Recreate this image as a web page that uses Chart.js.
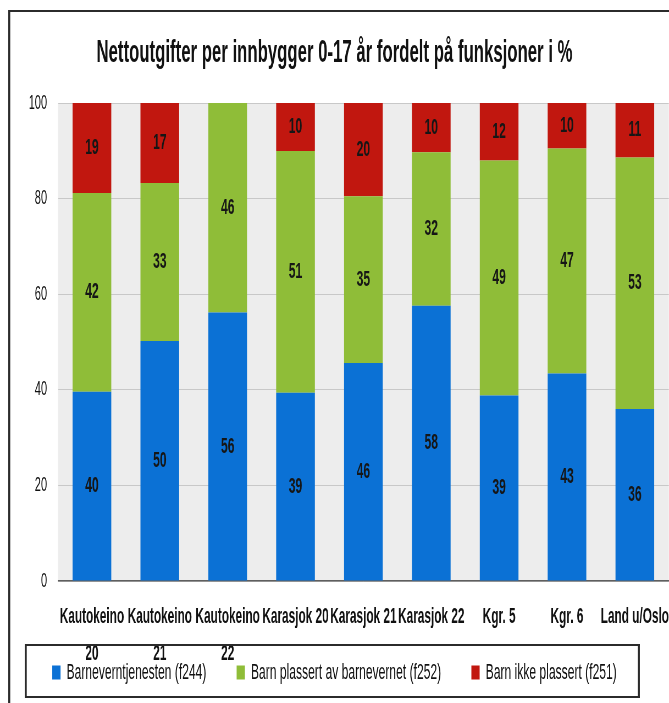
<!DOCTYPE html>
<html>
<head>
<meta charset="utf-8">
<title>Nettoutgifter per innbygger 0-17 år</title>
<script src="https://cdn.jsdelivr.net/npm/chart.js@4.4.1/dist/chart.umd.min.js"></script>
<style>
  body { margin: 0; background: #fff; overflow: hidden; }
  /* the source is a squeezed Excel chart: draw it wide, then squeeze it to 669px */
  #wrap { width: 1217px; height: 703px; transform: scaleX(0.5497); transform-origin: 0 0; }
</style>
</head>
<body>
<div id="wrap"><canvas id="fordeling"></canvas></div>
<script>
// categories (the year wraps onto a second line for Kautokeino)
let kommuner = [['Kautokeino', '20'], ['Kautokeino', '21'], ['Kautokeino', '22'], 'Karasjok 20', 'Karasjok 21', 'Karasjok 22', 'Kgr. 5', 'Kgr. 6', 'Land u/Oslo'];

// share of net spending, %
let barnevernTj = [39.6, 50.2, 56.2, 39.4, 45.6, 57.6, 38.8, 43.4, 36.0];
let barnPlassert = [41.6, 33.1, 46.0, 50.6, 34.9, 32.1, 49.2, 47.1, 52.6];
let barnIkkePlassert = [18.8, 16.7, -2.2, 10.0, 19.5, 10.3, 12.0, 9.5, 11.4];

let yTicks = [0, 20, 40, 60, 80, 100];

const fam = '"Liberation Sans", Arial, sans-serif';
Chart.defaults.font.family = fam;
Chart.defaults.color = '#111';

// gray plot area, outer frame and the box round the legend
const frame = {
    id: 'frame',
    beforeDraw(chart) {
        const {ctx, chartArea: a} = chart;
        ctx.save();
        ctx.fillStyle = '#ededed';
        ctx.fillRect(a.left, a.top, a.right - a.left, a.bottom - a.top);
        ctx.restore();
    },
    afterDraw(chart) {
        const {ctx, width, height, legend} = chart;
        ctx.save();
        ctx.fillStyle = '#2b2b2b';
        ctx.fillRect(16, 10, width - 16, 2);
        ctx.fillRect(15, 10, 3.6, height - 10);

        const boxes = legend.legendHitBoxes;
        const first = boxes[0], last = boxes[boxes.length - 1];
        const l = first.left - 50, r = last.left + last.width + 42;
        const t = first.top - 17.5, b = first.top + first.height + 14.5;
        ctx.fillRect(l, t, r - l, 2);
        ctx.fillRect(l, b - 2, r - l, 2);
        ctx.fillRect(l, t, 3.6, b - t);
        ctx.fillRect(r - 3.6, t, 3.6, b - t);
        ctx.restore();
    }
};

// value in the middle of each visible segment
const segmentLabels = {
    id: 'segmentLabels',
    afterDatasetsDraw(chart) {
        const {ctx, chartArea} = chart;
        ctx.save();
        ctx.font = 'bold 22px ' + fam;
        ctx.fillStyle = '#161616';
        ctx.textAlign = 'center';
        ctx.textBaseline = 'middle';
        chart.data.datasets.forEach((ds, i) => {
            chart.getDatasetMeta(i).data.forEach((bar, j) => {
                const v = ds.data[j];
                if (v <= 0) return;
                const top = Math.max(Math.min(bar.y, bar.base), chartArea.top);
                const bottom = Math.min(Math.max(bar.y, bar.base), chartArea.bottom);
                if (bottom - top < 12) return;
                ctx.fillText(Math.round(v), bar.x, (top + bottom) / 2);
            });
        });
        ctx.restore();
    }
};

const ctx = document.getElementById('fordeling').getContext('2d');
const fordelingChart = new Chart(ctx, {
    type: 'bar',
    data: {
        labels: kommuner,
        datasets: [{
                label: 'Barneverntjenesten (f244)',
                data: barnevernTj,
                backgroundColor: '#0b71d5',
                borderWidth: 0
            },
            {
                label: 'Barn plassert av barnevernet (f252)',
                data: barnPlassert,
                backgroundColor: '#8fbd38',
                borderWidth: 0
            },
            {
                label: 'Barn ikke plassert (f251)',
                data: barnIkkePlassert,
                backgroundColor: '#c1170f',
                borderWidth: 0
            }]
    },
    options: {
        responsive: true,
        maintainAspectRatio: false,
        animation: false,
        datasets: {
            bar: { barPercentage: 0.57, categoryPercentage: 1 }
        },
        layout: { padding: { left: 0, right: 0, top: 0, bottom: 9.5 } },
        scales: {
            x: {
                stacked: true,
                // no tick marks drawn, tickLength only pushes the labels down
                grid: { display: false, drawTicks: true, tickLength: 17.5 },
                border: { color: '#5f5f5f', width: 1.5 },
                ticks: {
                    padding: 0,
                    maxRotation: 0,
                    autoSkip: false,
                    font: { size: 21.5, weight: 'bold', lineHeight: '37px' }
                },
                afterFit(scale) {
                    scale.height = 25.5;
                    // the wrapped year runs down into the legend box like in the original
                    scale._computeLabelArea = () => undefined;
                }
            },
            y: {
                stacked: true,
                min: 0,
                max: 100,
                grid: { color: '#c8c8c8', drawTicks: false },
                border: { display: false },
                ticks: { padding: 20, font: { size: 20 } },
                afterBuildTicks(scale) { scale.ticks = yTicks.map(v => ({ value: v })); },
                afterFit(scale) { scale.width = 105.5; }
            }
        },
        plugins: {
            title: {
                display: true,
                text: 'Nettoutgifter per innbygger 0-17 år fordelt på funksjoner i %',
                font: { size: 30.5, weight: 'bold' },
                padding: { top: 35.5, bottom: 31 }
            },
            legend: {
                position: 'bottom',
                labels: {
                    boxWidth: 15,
                    boxHeight: 14,
                    padding: 55,
                    font: { size: 22 }
                }
            },
            tooltip: { enabled: false }
        }
    },
    plugins: [frame, segmentLabels]
});
</script>
</body>
</html>
